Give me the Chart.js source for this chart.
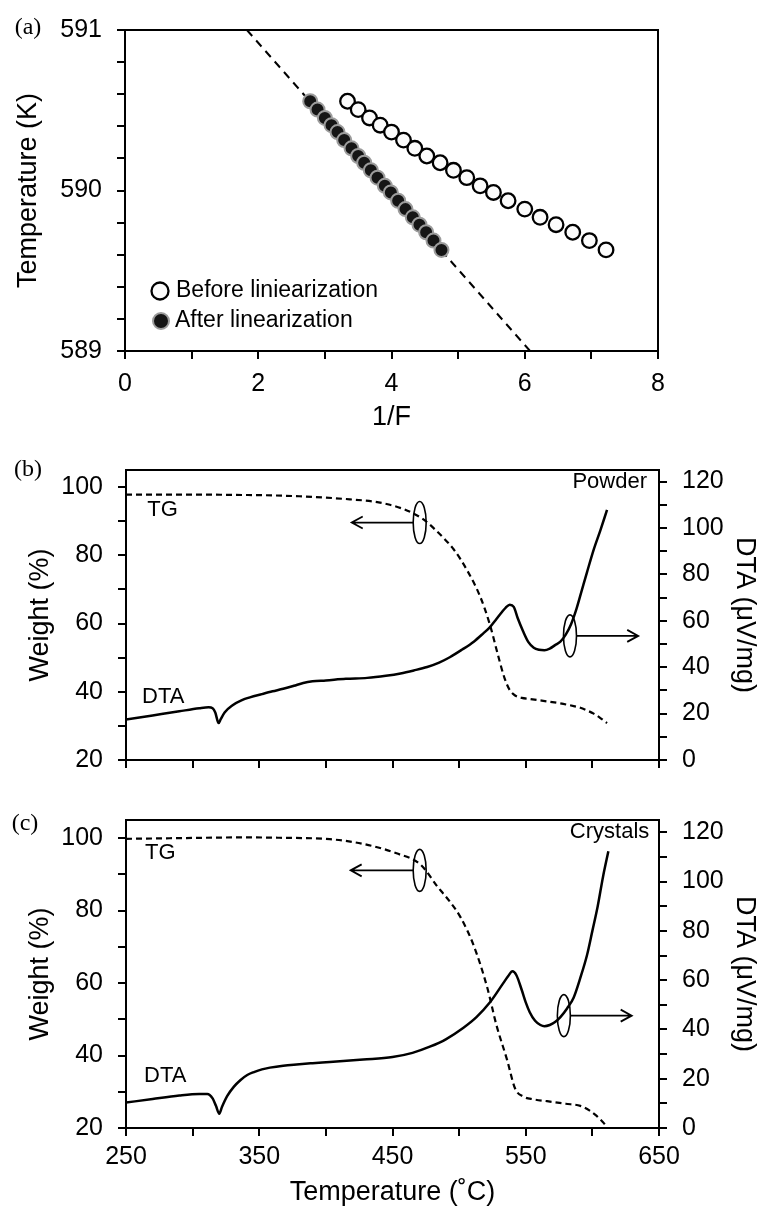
<!DOCTYPE html>
<html>
<head>
<meta charset="utf-8">
<script src="https://cdn.jsdelivr.net/npm/chart.js@4.4.1/dist/chart.umd.min.js"></script>
<style>
  body { margin: 0; background: #fff; }
  canvas { position: absolute; left: 0; }
</style>
</head>
<body>
<canvas id="chart_a" width="762" height="440" style="top:0px"></canvas>
<canvas id="chart_b" width="762" height="350" style="top:440px"></canvas>
<canvas id="chart_c" width="762" height="421" style="top:790px"></canvas>
<script>
// ---- (a) temperature vs 1/F ----
const tempK = [590.556, 590.504, 590.452, 590.407, 590.364, 590.314, 590.263, 590.215, 590.173, 590.126,
  590.080, 590.029, 589.988, 589.936, 589.884, 589.833, 589.787, 589.740, 589.688, 589.630];
const invFBefore = [3.34, 3.50, 3.67, 3.83, 4.00, 4.18, 4.35, 4.53, 4.73, 4.93,
  5.13, 5.33, 5.53, 5.75, 6.00, 6.23, 6.47, 6.72, 6.97, 7.22];
const invFAfter = [2.78, 2.89, 3.00, 3.10, 3.19, 3.29, 3.40, 3.50, 3.59, 3.69,
  3.79, 3.90, 3.99, 4.10, 4.21, 4.32, 4.42, 4.52, 4.63, 4.75];
const fitInvF = [1.83, 6.08];
const fitTempK = [591, 589];

// ---- (b) powder ----
const powderTgTemp = [250, 280, 305, 330, 355, 380, 400, 418, 435, 448, 458, 466, 474, 481, 488, 496, 506, 516,
  523, 529, 534, 538, 542, 547, 553, 562, 576, 586, 591, 596, 601, 606, 611];
const powderTgWeight = [97.8, 97.8, 97.8, 97.7, 97.6, 97.3, 96.9, 96.4, 95.8, 94.8, 93.6, 92.2, 90.3, 87.9, 85.2, 81.7, 75.6, 67.7,
  59.8, 51.0, 44.1, 40.5, 38.9, 38.2, 37.9, 37.4, 36.6, 35.8, 35.3, 34.5, 33.6, 32.3, 30.8];
const powderDtaTemp = [250, 270, 290, 305, 312, 315, 317, 319.5, 321, 324, 330, 337, 343, 352, 360, 368, 376, 383, 390, 400,
  415, 431, 445, 456, 466, 476, 485, 493, 502, 511, 518, 523, 528, 532, 535, 538, 541, 544, 548, 552,
  556, 560, 564, 568, 572, 576, 580, 584, 588, 592, 596, 601, 606, 611];
const powderDta = [17.4, 19.2, 21.0, 22.3, 22.7, 22.3, 20.5, 15.9, 17.5, 20.5, 23.6, 25.8, 27.0, 28.4, 29.6, 30.7, 32.0, 33.2, 33.9, 34.3,
  35.0, 35.4, 36.3, 37.3, 38.6, 40.1, 42.0, 44.3, 47.5, 51.0, 54.5, 57.2, 60.8, 63.7, 65.7, 66.9, 66.0, 61.1, 55.5, 50.8,
  48.4, 47.5, 47.3, 48.0, 49.5, 51.0, 54.0, 58.5, 65.0, 73.0, 81.0, 90.7, 99.0, 107.8];

// ---- (c) crystals ----
const crystalTgTemp = [250, 290, 340, 365, 403, 428, 453, 471, 484, 493, 501, 511, 521, 528, 536, 542, 548, 556,
  566, 580, 591, 598, 603, 608, 611];
const crystalTgWeight = [99.8, 100.0, 100.2, 100.1, 99.7, 98.4, 95.8, 92.7, 86.5, 82.5, 78.2, 70.3, 58.9, 48.4, 38.8, 30.9, 28.7, 27.9,
  27.4, 26.7, 26.1, 24.8, 23.4, 21.6, 20.3];
const crystalDtaTemp = [250, 270, 290, 305, 311, 315, 317.5, 320, 322, 326, 331, 336, 341, 346, 352, 358, 368, 378, 390, 403,
  428, 450, 465, 478, 490, 503, 513, 523, 533, 537, 540, 543, 547, 550, 553, 557, 561, 564, 568, 572,
  576, 581, 586, 591, 596, 600, 604, 608, 612];
const crystalDta = [10.3, 11.8, 13.2, 13.8, 13.8, 12.0, 9.0, 5.8, 8.5, 13.0, 16.8, 19.5, 21.5, 22.7, 23.8, 24.5, 25.3, 25.8, 26.3, 26.8,
  27.8, 28.8, 30.5, 33.0, 36.0, 40.6, 45.0, 50.9, 58.7, 61.8, 63.6, 62.0, 56.0, 51.0, 47.0, 43.5, 41.8, 41.3, 41.8, 43.0,
  45.0, 48.5, 53.0, 61.0, 70.2, 80.0, 90.0, 102.0, 112.3];

// ---- tick labels ----
const invFLabels = [0, 2, 4, 6, 8];
const tempKLabels = [589, 590, 591];
const tempCLabels = [250, 350, 450, 550, 650];
const weightLabels = [20, 40, 60, 80, 100];
const dtaLabels = [0, 20, 40, 60, 80, 100, 120];

Chart.defaults.font.family = "'Liberation Sans', Arial, sans-serif";
Chart.defaults.color = '#000';

const SANS = "'Liberation Sans', Arial, sans-serif";
const SERIF = "'Liberation Serif', 'Times New Roman', serif";

const pts = (xs, ys) => xs.map((x, i) => ({ x: x, y: ys[i] }));
const pick = (list) => (v) => {
  const hit = list.find(t => Math.abs(t - v) < 1e-6);
  return hit === undefined ? '' : String(hit);
};

function axis(o) {
  return {
    type: 'linear',
    position: o.position,
    min: o.min,
    max: o.max,
    afterFit: o.fit,
    border: { display: true, color: '#000', width: 2 },
    grid: { display: true, drawOnChartArea: false, drawTicks: true, tickLength: 8, color: '#000', lineWidth: 2 },
    ticks: {
      stepSize: o.step, maxTicksLimit: 100, autoSkip: false, includeBounds: false,
      maxRotation: 0, padding: o.pad, font: { size: 25 }, callback: pick(o.labels)
    },
    title: o.title
      ? { display: true, text: o.title, font: { size: 27 }, padding: o.titlePad }
      : { display: false }
  };
}

function txt(ctx, s, x, y, font, align) {
  ctx.font = font;
  ctx.fillStyle = '#000';
  ctx.textAlign = align || 'left';
  ctx.textBaseline = 'middle';
  ctx.fillText(s, x, y);
}

function frame(chart, ctx) {
  const a = chart.chartArea;
  ctx.strokeStyle = '#000';
  ctx.lineWidth = 2;
  ctx.strokeRect(a.left, a.top, a.right - a.left, a.bottom - a.top);
}

// loop around a curve with an arrow pointing to its axis
function loopArrow(chart, ctx, yId, t, v, tip) {
  const x = chart.scales.x.getPixelForValue(t);
  const y = chart.scales[yId].getPixelForValue(v);
  const xt = chart.scales.x.getPixelForValue(tip);
  const rx = 6.5, ry = 21;
  const dir = xt < x ? -1 : 1;
  ctx.strokeStyle = '#000';
  ctx.lineWidth = 1.6;
  ctx.beginPath();
  ctx.ellipse(x, y, rx, ry, 0, 0, Math.PI * 2);
  ctx.stroke();
  ctx.lineWidth = 1.8;
  ctx.beginPath();
  ctx.moveTo(x + dir * rx, y);
  ctx.lineTo(xt, y);
  ctx.moveTo(xt - dir * 11, y - 6);
  ctx.lineTo(xt, y);
  ctx.lineTo(xt - dir * 11, y + 6);
  ctx.stroke();
}

function decor(draw) {
  return {
    id: 'decor',
    afterDatasetsDraw(chart) {
      const ctx = chart.ctx;
      ctx.save();
      frame(chart, ctx);
      draw(chart, ctx);
      ctx.restore();
    }
  };
}

const common = {
  responsive: false,
  animation: false,
  events: [],
  plugins: { legend: { display: false }, tooltip: { enabled: false } }
};

// ---------- (a) ----------
new Chart(document.getElementById('chart_a'), {
  type: 'scatter',
  data: {
    datasets: [
      {
        data: pts(invFAfter, tempK),
        pointRadius: 7, borderWidth: 2,
        backgroundColor: '#151515', borderColor: '#9c9c9c'
      },
      {
        data: pts(invFBefore, tempK),
        pointRadius: 7.3, borderWidth: 2.3,
        backgroundColor: '#fbfbfb', borderColor: '#000'
      },
      {
        data: pts(fitInvF, fitTempK),
        showLine: true, pointRadius: 0, borderWidth: 2,
        borderColor: '#000', borderDash: [8, 6]
      }
    ]
  },
  options: Object.assign({}, common, {
    layout: { padding: { left: 0, top: 28, right: 104, bottom: 0 } },
    scales: {
      x: axis({ position: 'bottom', min: 0, max: 8, step: 1, labels: invFLabels, pad: 10,
        title: '1/F', titlePad: { top: 0, bottom: 6 }, fit: s => { s.height = 89; } }),
      y: axis({ position: 'left', min: 589, max: 591, step: 0.2, labels: tempKLabels, pad: 15,
        title: 'Temperature (K)', titlePad: { top: 12, bottom: 0 }, fit: s => { s.width = 125; } })
    }
  }),
  plugins: [decor((chart, ctx) => {
    txt(ctx, '(a)', 28, 28, '24px ' + SERIF, 'center');
    // legend
    ctx.lineWidth = 2.3;
    ctx.strokeStyle = '#000';
    ctx.fillStyle = '#fbfbfb';
    ctx.beginPath(); ctx.arc(160, 291, 8.5, 0, Math.PI * 2); ctx.fill(); ctx.stroke();
    ctx.lineWidth = 2;
    ctx.strokeStyle = '#9c9c9c';
    ctx.fillStyle = '#151515';
    ctx.beginPath(); ctx.arc(161, 321, 8, 0, Math.PI * 2); ctx.fill(); ctx.stroke();
    txt(ctx, 'Before liniearization', 176, 291, '23px ' + SANS);
    txt(ctx, 'After linearization', 175, 321, '23px ' + SANS);
  })]
});

// ---------- (b) and (c) ----------
function thermal(id, o) {
  new Chart(document.getElementById(id), {
    type: 'scatter',
    data: {
      datasets: [
        {
          data: pts(o.dtaTemp, o.dta), yAxisID: 'y1',
          showLine: true, pointRadius: 0, borderWidth: 2.5, borderColor: '#000',
          cubicInterpolationMode: 'monotone'
        },
        {
          data: pts(o.tgTemp, o.tg), yAxisID: 'y',
          showLine: true, pointRadius: 0, borderWidth: 2.2, borderColor: '#000',
          borderDash: [6, 4], cubicInterpolationMode: 'monotone'
        }
      ]
    },
    options: Object.assign({}, common, {
      layout: { padding: { left: 0, top: o.top, right: 0, bottom: 0 } },
      scales: {
        x: axis({ position: 'bottom', min: 250, max: 650, step: 50, labels: o.xLabels, pad: 6,
          title: o.xTitle, titlePad: { top: 0, bottom: 2 }, fit: s => { s.height = o.xHeight; } }),
        y: axis({ position: 'left', min: 20, max: 105, step: 10, labels: weightLabels, pad: 15,
          title: 'Weight (%)', titlePad: { top: 24, bottom: 0 }, fit: s => { s.width = 126; } }),
        y1: axis({ position: 'right', min: 0, max: 125, step: 10, labels: dtaLabels, pad: 15,
          title: 'DTA (\u03BCV/mg)', titlePad: { top: 1.5, bottom: 0 }, fit: s => { s.width = 103; } })
      }
    }),
    plugins: [decor((chart, ctx) => {
      const X = v => chart.scales.x.getPixelForValue(v);
      const Y = v => chart.scales.y.getPixelForValue(v);
      txt(ctx, o.panel, o.panelX, o.panelY, '24px ' + SERIF, 'center');
      txt(ctx, 'TG', X(o.tgText[0]), Y(o.tgText[1]), '22px ' + SANS);
      txt(ctx, 'DTA', X(o.dtaText[0]), Y(o.dtaText[1]), '22px ' + SANS);
      txt(ctx, o.name, X(o.nameAt[0]), Y(o.nameAt[1]), '22px ' + SANS, 'right');
      loopArrow(chart, ctx, 'y', o.tgLoop[0], o.tgLoop[1], o.tgLoop[2]);
      loopArrow(chart, ctx, 'y1', o.dtaLoop[0], o.dtaLoop[1], o.dtaLoop[2]);
    })]
  });
}

thermal('chart_b', {
  tgTemp: powderTgTemp, tg: powderTgWeight, dtaTemp: powderDtaTemp, dta: powderDta,
  xLabels: [], xTitle: null, xHeight: 15, top: 11,
  panel: '(b)', panelX: 28, panelY: 30,
  name: 'Powder', nameAt: [641, 101.4],
  tgText: [266, 93.2], dtaText: [262, 38.6],
  tgLoop: [470.4, 89.6, 419.4], dtaLoop: [583.2, 53.5, 634.4]
});

thermal('chart_c', {
  tgTemp: crystalTgTemp, tg: crystalTgWeight, dtaTemp: crystalDtaTemp, dta: crystalDta,
  xLabels: tempCLabels, xTitle: 'Temperature (\u02DAC)', xHeight: 83, top: 15,
  panel: '(c)', panelX: 25, panelY: 34,
  name: 'Crystals', nameAt: [642.7, 101.8],
  tgText: [264.3, 95.8], dtaText: [263.5, 34.3],
  tgLoop: [470.4, 91.1, 418.6], dtaLoop: [578.6, 45.6, 629.5]
});
</script>
</body>
</html>
